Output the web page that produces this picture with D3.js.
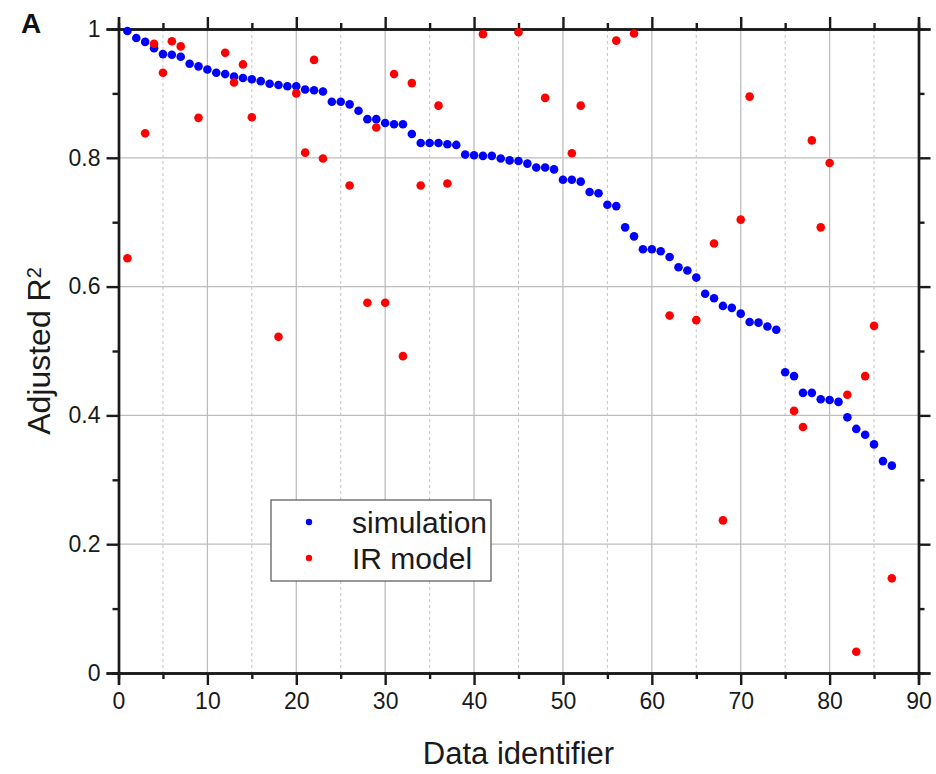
<!DOCTYPE html>
<html>
<head>
<meta charset="utf-8">
<script src="https://cdn.jsdelivr.net/npm/d3@7"></script>
<style>
  body { margin: 0; background: #fff; }
  text { font-family: "Liberation Sans", Arial, sans-serif; }
</style>
</head>
<body>
<div id="chart"></div>
<script>
// simulation: one value per data identifier 1..87
var simIds = d3.range(1, 88);
var simValues = [
  0.997, 0.986, 0.980, 0.970, 0.961, 0.960, 0.957, 0.946, 0.942, 0.937,
  0.932, 0.930, 0.926, 0.924, 0.922, 0.919, 0.915, 0.913, 0.911, 0.911,
  0.906, 0.905, 0.903, 0.887, 0.887, 0.883, 0.873, 0.860, 0.860, 0.854,
  0.852, 0.852, 0.837, 0.823, 0.823, 0.823, 0.821, 0.820, 0.805, 0.804,
  0.803, 0.803, 0.799, 0.796, 0.795, 0.791, 0.785, 0.785, 0.782, 0.766,
  0.766, 0.763, 0.747, 0.745, 0.727, 0.725, 0.692, 0.678, 0.658, 0.658,
  0.655, 0.646, 0.630, 0.625, 0.614, 0.589, 0.582, 0.570, 0.567, 0.558,
  0.545, 0.544, 0.538, 0.533, 0.467, 0.461, 0.435, 0.435, 0.425, 0.424,
  0.421, 0.397, 0.379, 0.370, 0.355, 0.329, 0.322
];

// IR model: only the identifiers that show a point
var irIds = [1, 3, 4, 5, 6, 7, 9, 12, 13, 14, 15, 18, 20, 21, 22, 23, 26, 28, 29, 30,
  31, 32, 33, 34, 36, 37, 41, 45, 48, 51, 52, 56, 58, 62, 65, 67, 68, 70, 71, 76,
  77, 78, 79, 80, 82, 83, 84, 85, 87];
var irValues = [0.644, 0.838, 0.977, 0.932, 0.981, 0.973, 0.862, 0.963, 0.917, 0.945,
  0.863, 0.522, 0.900, 0.808, 0.952, 0.799, 0.757, 0.575, 0.847, 0.575,
  0.930, 0.492, 0.916, 0.757, 0.881, 0.760, 0.992, 0.995, 0.893, 0.807,
  0.881, 0.982, 0.993, 0.555, 0.548, 0.667, 0.237, 0.704, 0.895, 0.407,
  0.382, 0.827, 0.692, 0.792, 0.432, 0.033, 0.461, 0.539, 0.147];

var xMajor = [0, 10, 20, 30, 40, 50, 60, 70, 80, 90];
var xMinor = [5, 15, 25, 35, 45, 55, 65, 75, 85];
var yMajor = [0, 0.2, 0.4, 0.6, 0.8, 1];
var yMinor = [0.1, 0.3, 0.5, 0.7, 0.9];
var yLabels = ["0", "0.2", "0.4", "0.6", "0.8", "1"];

var seriesNames = ["simulation", "IR model"];
var seriesColors = ["#0000ff", "#ff0000"];

var W = 936, H = 774;
var margin = {top: 29, right: 17.5, bottom: 101, left: 118.5};
var width = W - margin.left - margin.right,
    height = H - margin.top - margin.bottom;

var svg = d3.select("#chart").append("svg")
    .attr("width", W)
    .attr("height", H);

var g = svg.append("g")
    .attr("transform", "translate(" + margin.left + "," + margin.top + ")");

var x = d3.scaleLinear().domain([0, 90]).range([0, width]);
var y = d3.scaleLinear().domain([0, 1]).range([height, 0]);

// grid
g.append("g").selectAll("line").data(xMajor.slice(1, -1)).enter().append("line")
    .attr("x1", d => x(d)).attr("x2", d => x(d))
    .attr("y1", 0).attr("y2", height)
    .attr("stroke", "#bdbdbd").attr("stroke-width", 1.3);
g.append("g").selectAll("line").data(xMinor).enter().append("line")
    .attr("x1", d => x(d)).attr("x2", d => x(d))
    .attr("y1", 0).attr("y2", height)
    .attr("stroke", "#c4c4c4").attr("stroke-width", 1)
    .attr("stroke-dasharray", "3,3");
g.append("g").selectAll("line").data(yMajor.slice(1, -1)).enter().append("line")
    .attr("x1", 0).attr("x2", width)
    .attr("y1", d => y(d)).attr("y2", d => y(d))
    .attr("stroke", "#bdbdbd").attr("stroke-width", 1.3);

// axes: ticks outward on all four sides
g.append("g").attr("class", "axis axis-x")
    .attr("transform", "translate(0," + height + ")")
    .call(d3.axisBottom(x).tickValues(xMajor).tickSize(12).tickPadding(8).tickFormat(d3.format("d")));
g.append("g").attr("transform", "translate(0," + height + ")")
    .call(d3.axisBottom(x).tickValues(xMinor).tickSize(6).tickFormat(""));
g.append("g").attr("class", "axis axis-y")
    .call(d3.axisLeft(y).tickValues(yMajor).tickSize(12).tickPadding(6).tickFormat((d, i) => yLabels[i]));
g.append("g").call(d3.axisLeft(y).tickValues(yMinor).tickSize(6).tickFormat(""));
g.append("g").call(d3.axisTop(x).tickValues(xMajor).tickSize(12).tickFormat(""));
g.append("g").call(d3.axisTop(x).tickValues(xMinor).tickSize(6).tickFormat(""));
g.append("g").attr("transform", "translate(" + width + ",0)")
    .call(d3.axisRight(y).tickValues(yMajor).tickSize(12).tickFormat(""));
g.append("g").attr("transform", "translate(" + width + ",0)")
    .call(d3.axisRight(y).tickValues(yMinor).tickSize(6).tickFormat(""));

g.selectAll(".domain").attr("stroke", "#1a1a1a").attr("stroke-width", 2.4);
g.selectAll(".tick line").attr("stroke", "#1a1a1a").attr("stroke-width", 2.4);
g.selectAll(".tick text").attr("fill", "#1a1a1a").style("font-size", "23px")
    .style("font-family", "'Liberation Sans', Arial, sans-serif");

// points
g.append("g").selectAll("circle").data(simIds).enter().append("circle")
    .attr("cx", d => x(d))
    .attr("cy", (d, i) => y(simValues[i]))
    .attr("r", 4.3)
    .attr("fill", seriesColors[0]);
g.append("g").selectAll("circle").data(irIds).enter().append("circle")
    .attr("cx", d => x(d))
    .attr("cy", (d, i) => y(irValues[i]))
    .attr("r", 4.3)
    .attr("fill", seriesColors[1]);

// legend
var leg = g.append("g").attr("transform", "translate(" + (271 - margin.left) + "," + (500 - margin.top) + ")");
leg.append("rect").attr("width", 220).attr("height", 81)
    .attr("fill", "#fff").attr("stroke", "#555").attr("stroke-width", 1.2);
seriesNames.forEach(function(name, i) {
  leg.append("circle").attr("cx", 38).attr("cy", 22 + i * 36).attr("r", 3.2)
      .attr("fill", seriesColors[i]);
  leg.append("text").attr("x", 81).attr("y", 22 + i * 36).attr("dy", "0.35em")
      .attr("fill", "#1a1a1a").style("font-size", "30px").text(name);
});

// titles
svg.append("text")
    .attr("x", margin.left + width / 2).attr("y", 764)
    .attr("text-anchor", "middle").attr("fill", "#1a1a1a")
    .style("font-size", "31px").text("Data identifier");

var yt = svg.append("text")
    .attr("transform", "translate(50," + (margin.top + height / 2) + ") rotate(-90)")
    .attr("text-anchor", "middle").attr("fill", "#1a1a1a")
    .style("font-size", "32px");
yt.append("tspan").text("Adjusted R");
yt.append("tspan").attr("dy", "-0.45em").style("font-size", "20px").text("2");

svg.append("text")
    .attr("x", 21).attr("y", 33)
    .attr("fill", "#111").style("font-size", "28px").style("font-weight", "bold")
    .text("A");
</script>
</body>
</html>
